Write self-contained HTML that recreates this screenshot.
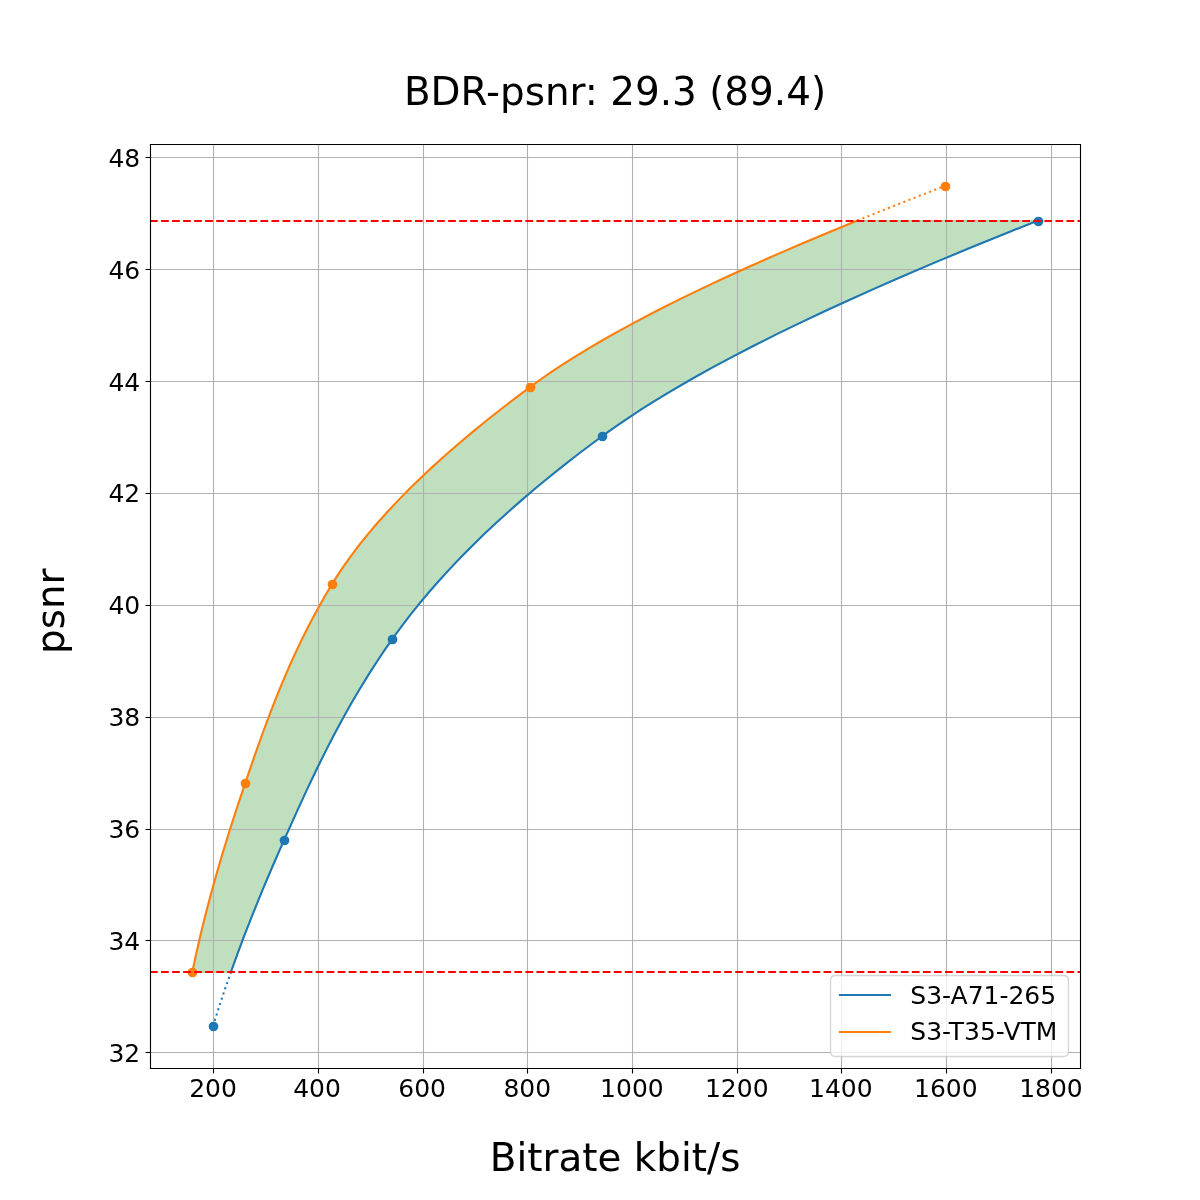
<!DOCTYPE html>
<html><head><meta charset="utf-8"><title>BDR-psnr</title><style>html,body{margin:0;padding:0;background:#fff;width:1200px;height:1200px;overflow:hidden}svg{display:block}text{filter:grayscale(1)}</style></head><body>
<svg width="1200" height="1200" viewBox="0 0 864 864">
<defs>
<style type="text/css">*{stroke-linejoin: round; stroke-linecap: butt}</style>
</defs>
<g>
<g>
<path d="M 0 864 L 864 864 L 864 0 L 0 0 z" style="fill: #ffffff" />
</g>
<g>
<g>
<path d="M 108 768.96 L 777.6 768.96 L 777.6 103.68 L 108 103.68 z" style="fill: #ffffff" />
</g>
<g>
<g clip-path="url(#pe3cf973f61)">
<path d="M 138.436 700.021 L 166.203 700.021 L 167.17 697.302 L 168.144 694.583 L 169.127 691.863 L 170.119 689.144 L 171.118 686.424 L 172.126 683.705 L 173.141 680.985 L 174.165 678.266 L 175.196 675.546 L 176.236 672.827 L 177.283 670.107 L 178.337 667.388 L 179.399 664.668 L 180.469 661.949 L 181.546 659.229 L 182.63 656.51 L 183.722 653.79 L 184.821 651.071 L 185.927 648.352 L 187.04 645.632 L 188.16 642.913 L 189.286 640.193 L 190.42 637.474 L 191.56 634.754 L 192.707 632.035 L 193.861 629.315 L 195.021 626.596 L 196.188 623.876 L 197.36 621.157 L 198.54 618.437 L 199.725 615.718 L 200.916 612.998 L 202.114 610.279 L 203.318 607.559 L 204.527 604.84 L 205.74 602.12 L 206.955 599.401 L 208.173 596.682 L 209.393 593.962 L 210.617 591.243 L 211.845 588.523 L 213.077 585.804 L 214.314 583.084 L 215.556 580.365 L 216.803 577.645 L 218.057 574.926 L 219.317 572.206 L 220.584 569.487 L 221.858 566.767 L 223.14 564.048 L 224.43 561.328 L 225.729 558.609 L 227.037 555.889 L 228.355 553.17 L 229.683 550.451 L 231.021 547.731 L 232.37 545.012 L 233.731 542.292 L 235.103 539.573 L 236.488 536.853 L 237.885 534.134 L 239.295 531.414 L 240.719 528.695 L 242.157 525.975 L 243.61 523.256 L 245.077 520.536 L 246.559 517.817 L 248.058 515.097 L 249.573 512.378 L 251.104 509.658 L 252.652 506.939 L 254.218 504.219 L 255.802 501.5 L 257.405 498.781 L 259.026 496.061 L 260.667 493.342 L 262.327 490.622 L 264.008 487.903 L 265.709 485.183 L 267.432 482.464 L 269.176 479.744 L 270.942 477.025 L 272.73 474.305 L 274.542 471.586 L 276.376 468.866 L 278.235 466.147 L 280.117 463.427 L 282.025 460.708 L 283.959 457.988 L 285.927 455.269 L 287.927 452.55 L 289.96 449.83 L 292.026 447.111 L 294.125 444.391 L 296.257 441.672 L 298.422 438.952 L 300.619 436.233 L 302.85 433.513 L 305.113 430.794 L 307.41 428.074 L 309.739 425.355 L 312.102 422.635 L 314.497 419.916 L 316.926 417.196 L 319.387 414.477 L 321.882 411.757 L 324.41 409.038 L 326.97 406.318 L 329.564 403.599 L 332.191 400.88 L 334.851 398.16 L 337.545 395.441 L 340.271 392.721 L 343.031 390.002 L 345.823 387.282 L 348.649 384.563 L 351.509 381.843 L 354.401 379.124 L 357.327 376.404 L 360.286 373.685 L 363.278 370.965 L 366.304 368.246 L 369.363 365.526 L 372.455 362.807 L 375.581 360.087 L 378.74 357.368 L 381.932 354.649 L 385.158 351.929 L 388.417 349.21 L 391.71 346.49 L 395.036 343.771 L 398.395 341.051 L 401.788 338.332 L 405.215 335.612 L 408.675 332.893 L 412.168 330.173 L 415.695 327.454 L 419.256 324.734 L 422.85 322.015 L 426.478 319.295 L 430.139 316.576 L 433.834 313.856 L 437.588 311.137 L 441.417 308.417 L 445.322 305.698 L 449.301 302.979 L 453.354 300.259 L 457.479 297.54 L 461.677 294.82 L 465.946 292.101 L 470.286 289.381 L 474.696 286.662 L 479.175 283.942 L 483.723 281.223 L 488.338 278.503 L 493.021 275.784 L 497.769 273.064 L 502.583 270.345 L 507.462 267.625 L 512.405 264.906 L 517.411 262.186 L 522.48 259.467 L 527.61 256.748 L 532.801 254.028 L 538.053 251.309 L 543.364 248.589 L 548.734 245.87 L 554.162 243.15 L 559.648 240.431 L 565.189 237.711 L 570.787 234.992 L 576.44 232.272 L 582.147 229.553 L 587.908 226.833 L 593.721 224.114 L 599.587 221.394 L 605.504 218.675 L 611.471 215.955 L 617.489 213.236 L 623.556 210.516 L 629.67 207.797 L 635.833 205.078 L 642.043 202.358 L 648.298 199.639 L 654.599 196.919 L 660.945 194.2 L 667.334 191.48 L 673.767 188.761 L 680.242 186.041 L 686.759 183.322 L 693.317 180.602 L 699.915 177.883 L 706.552 175.163 L 713.229 172.444 L 719.943 169.724 L 726.694 167.005 L 733.482 164.285 L 740.305 161.566 L 747.164 158.847 L 617.226 158.847 L 617.226 158.847 L 610.562 161.566 L 603.944 164.285 L 597.375 167.005 L 590.854 169.724 L 584.383 172.444 L 577.964 175.163 L 571.596 177.883 L 565.281 180.602 L 559.02 183.322 L 552.814 186.041 L 546.664 188.761 L 540.571 191.48 L 534.537 194.2 L 528.561 196.919 L 522.646 199.639 L 516.792 202.358 L 511 205.078 L 505.271 207.797 L 499.607 210.516 L 494.008 213.236 L 488.476 215.955 L 483.01 218.675 L 477.614 221.394 L 472.286 224.114 L 467.03 226.833 L 461.844 229.553 L 456.731 232.272 L 451.692 234.992 L 446.728 237.711 L 441.839 240.431 L 437.026 243.15 L 432.292 245.87 L 427.636 248.589 L 423.059 251.309 L 418.564 254.028 L 414.15 256.748 L 409.82 259.467 L 405.573 262.186 L 401.411 264.906 L 397.335 267.625 L 393.345 270.345 L 389.444 273.064 L 385.632 275.784 L 381.91 278.503 L 378.252 281.223 L 374.624 283.942 L 371.028 286.662 L 367.464 289.381 L 363.931 292.101 L 360.431 294.82 L 356.963 297.54 L 353.527 300.259 L 350.125 302.979 L 346.756 305.698 L 343.421 308.417 L 340.12 311.137 L 336.853 313.856 L 333.621 316.576 L 330.423 319.295 L 327.261 322.015 L 324.135 324.734 L 321.044 327.454 L 317.989 330.173 L 314.971 332.893 L 311.989 335.612 L 309.045 338.332 L 306.138 341.051 L 303.269 343.771 L 300.437 346.49 L 297.644 349.21 L 294.89 351.929 L 292.174 354.649 L 289.497 357.368 L 286.861 360.087 L 284.263 362.807 L 281.706 365.526 L 279.19 368.246 L 276.714 370.965 L 274.279 373.685 L 271.886 376.404 L 269.534 379.124 L 267.224 381.843 L 264.957 384.563 L 262.732 387.282 L 260.55 390.002 L 258.411 392.721 L 256.315 395.441 L 254.264 398.16 L 252.256 400.88 L 250.293 403.599 L 248.375 406.318 L 246.501 409.038 L 244.673 411.757 L 242.891 414.477 L 241.154 417.196 L 239.464 419.916 L 237.814 422.635 L 236.191 425.355 L 234.592 428.074 L 233.017 430.794 L 231.467 433.513 L 229.94 436.233 L 228.436 438.952 L 226.955 441.672 L 225.496 444.391 L 224.059 447.111 L 222.643 449.83 L 221.248 452.55 L 219.873 455.269 L 218.519 457.988 L 217.184 460.708 L 215.868 463.427 L 214.57 466.147 L 213.291 468.866 L 212.03 471.586 L 210.786 474.305 L 209.558 477.025 L 208.347 479.744 L 207.152 482.464 L 205.972 485.183 L 204.808 487.903 L 203.658 490.622 L 202.522 493.342 L 201.4 496.061 L 200.291 498.781 L 199.194 501.5 L 198.111 504.219 L 197.039 506.939 L 195.978 509.658 L 194.928 512.378 L 193.889 515.097 L 192.86 517.817 L 191.841 520.536 L 190.831 523.256 L 189.829 525.975 L 188.836 528.695 L 187.851 531.414 L 186.873 534.134 L 185.902 536.853 L 184.937 539.573 L 183.978 542.292 L 183.026 545.012 L 182.078 547.731 L 181.135 550.451 L 180.196 553.17 L 179.261 555.889 L 178.329 558.609 L 177.4 561.328 L 176.473 564.048 L 175.551 566.767 L 174.633 569.487 L 173.72 572.206 L 172.812 574.926 L 171.91 577.645 L 171.013 580.365 L 170.122 583.084 L 169.236 585.804 L 168.356 588.523 L 167.482 591.243 L 166.613 593.962 L 165.751 596.682 L 164.894 599.401 L 164.044 602.12 L 163.201 604.84 L 162.363 607.559 L 161.532 610.279 L 160.708 612.998 L 159.89 615.718 L 159.08 618.437 L 158.276 621.157 L 157.479 623.876 L 156.689 626.596 L 155.907 629.315 L 155.132 632.035 L 154.364 634.754 L 153.604 637.474 L 152.851 640.193 L 152.107 642.913 L 151.37 645.632 L 150.641 648.352 L 149.92 651.071 L 149.207 653.79 L 148.503 656.51 L 147.806 659.229 L 147.119 661.949 L 146.44 664.668 L 145.769 667.388 L 145.107 670.107 L 144.455 672.827 L 143.811 675.546 L 143.176 678.266 L 142.55 680.985 L 141.934 683.705 L 141.327 686.424 L 140.729 689.144 L 140.142 691.863 L 139.563 694.583 L 138.995 697.302 L 138.436 700.021 z" style="fill: #008000; fill-opacity: 0.25; stroke: #008000; stroke-opacity: 0.25" /></g>
</g>
<g>
<g>
<g>
<path d="M 153.72 769.32 L 153.72 104.04" clip-path="url(#pe3cf973f61)" style="fill: none; stroke: #b0b0b0; stroke-width: 0.8; stroke-linecap: square" />
</g>
<g>
<g>
<path d="M 153.72 769.32 L 153.72 772.92" style="stroke: #000000; stroke-width: 0.8" /></g>
</g>
<g>
<text style="font-size: 18px; font-family: 'DejaVu Sans', 'Liberation Sans', sans-serif; text-anchor: middle" x="153.405" y="789.637" transform="rotate(-0 153.405 789.637)">200</text>
</g>
</g>
<g>
<g>
<path d="M 229.32 769.32 L 229.32 104.04" clip-path="url(#pe3cf973f61)" style="fill: none; stroke: #b0b0b0; stroke-width: 0.8; stroke-linecap: square" />
</g>
<g>
<g>
<path d="M 229.32 769.32 L 229.32 772.92" style="stroke: #000000; stroke-width: 0.8" /></g>
</g>
<g>
<g transform="translate(-0.54 0)"><text style="font-size: 18px; font-family: 'DejaVu Sans', 'Liberation Sans', sans-serif; text-anchor: middle" x="228.817" y="789.637" transform="rotate(-0 228.817 789.637)">400</text></g>
</g>
</g>
<g>
<g>
<path d="M 304.92 769.32 L 304.92 104.04" clip-path="url(#pe3cf973f61)" style="fill: none; stroke: #b0b0b0; stroke-width: 0.8; stroke-linecap: square" />
</g>
<g>
<g>
<path d="M 304.92 769.32 L 304.92 772.92" style="stroke: #000000; stroke-width: 0.8" /></g>
</g>
<g>
<g transform="translate(-0.27 0)"><text style="font-size: 18px; font-family: 'DejaVu Sans', 'Liberation Sans', sans-serif; text-anchor: middle" x="304.230" y="789.637" transform="rotate(-0 304.230 789.637)">600</text></g>
</g>
</g>
<g>
<g>
<path d="M 379.8 769.32 L 379.8 104.04" clip-path="url(#pe3cf973f61)" style="fill: none; stroke: #b0b0b0; stroke-width: 0.8; stroke-linecap: square" />
</g>
<g>
<g>
<path d="M 379.8 769.32 L 379.8 772.92" style="stroke: #000000; stroke-width: 0.8" /></g>
</g>
<g>
<text style="font-size: 18px; font-family: 'DejaVu Sans', 'Liberation Sans', sans-serif; text-anchor: middle" x="379.642" y="789.637" transform="rotate(-0 379.642 789.637)">800</text>
</g>
</g>
<g>
<g>
<path d="M 455.4 769.32 L 455.4 104.04" clip-path="url(#pe3cf973f61)" style="fill: none; stroke: #b0b0b0; stroke-width: 0.8; stroke-linecap: square" />
</g>
<g>
<g>
<path d="M 455.4 769.32 L 455.4 772.92" style="stroke: #000000; stroke-width: 0.8" /></g>
</g>
<g>
<g transform="translate(-0.09 0)"><text style="font-size: 18px; font-family: 'DejaVu Sans', 'Liberation Sans', sans-serif; text-anchor: middle" x="455.054" y="789.637" transform="rotate(-0 455.054 789.637)">1000</text></g>
</g>
</g>
<g>
<g>
<path d="M 531 769.32 L 531 104.04" clip-path="url(#pe3cf973f61)" style="fill: none; stroke: #b0b0b0; stroke-width: 0.8; stroke-linecap: square" />
</g>
<g>
<g>
<path d="M 531 769.32 L 531 772.92" style="stroke: #000000; stroke-width: 0.8" /></g>
</g>
<g>
<text style="font-size: 18px; font-family: 'DejaVu Sans', 'Liberation Sans', sans-serif; text-anchor: middle" x="530.466" y="789.637" transform="rotate(-0 530.466 789.637)">1200</text>
</g>
</g>
<g>
<g>
<path d="M 605.88 769.32 L 605.88 104.04" clip-path="url(#pe3cf973f61)" style="fill: none; stroke: #b0b0b0; stroke-width: 0.8; stroke-linecap: square" />
</g>
<g>
<g>
<path d="M 605.88 769.32 L 605.88 772.92" style="stroke: #000000; stroke-width: 0.8" /></g>
</g>
<g>
<g transform="translate(-0.45 0)"><text style="font-size: 18px; font-family: 'DejaVu Sans', 'Liberation Sans', sans-serif; text-anchor: middle" x="605.878" y="789.637" transform="rotate(-0 605.878 789.637)">1400</text></g>
</g>
</g>
<g>
<g>
<path d="M 681.48 769.32 L 681.48 104.04" clip-path="url(#pe3cf973f61)" style="fill: none; stroke: #b0b0b0; stroke-width: 0.8; stroke-linecap: square" />
</g>
<g>
<g>
<path d="M 681.48 769.32 L 681.48 772.92" style="stroke: #000000; stroke-width: 0.8" /></g>
</g>
<g>
<g transform="translate(-0.27 0)"><text style="font-size: 18px; font-family: 'DejaVu Sans', 'Liberation Sans', sans-serif; text-anchor: middle" x="681.291" y="789.637" transform="rotate(-0 681.291 789.637)">1600</text></g>
</g>
</g>
<g>
<g>
<path d="M 757.08 769.32 L 757.08 104.04" clip-path="url(#pe3cf973f61)" style="fill: none; stroke: #b0b0b0; stroke-width: 0.8; stroke-linecap: square" />
</g>
<g>
<g>
<path d="M 757.08 769.32 L 757.08 772.92" style="stroke: #000000; stroke-width: 0.8" /></g>
</g>
<g>
<text style="font-size: 18px; font-family: 'DejaVu Sans', 'Liberation Sans', sans-serif; text-anchor: middle" x="756.703" y="789.637" transform="rotate(-0 756.703 789.637)">1800</text>
</g>
</g>
<g>
<g transform="translate(0 0.72)"><g transform="translate(0.09 0)"><text style="font-size: 28px; font-family: 'DejaVu Sans', 'Liberation Sans', sans-serif; text-anchor: middle" x="442.8" y="842.656" transform="rotate(-0 442.8 842.656)">Bitrate kbit/s</text></g></g>
</g>
</g>
<g>
<g>
<g>
<path d="M 108.36 757.8 L 777.96 757.8" clip-path="url(#pe3cf973f61)" style="fill: none; stroke: #b0b0b0; stroke-width: 0.8; stroke-linecap: square" />
</g>
<g>
<g>
<path d="M 108.36 757.8 L 104.76 757.8" style="stroke: #000000; stroke-width: 0.8" /></g>
</g>
<g>
<text style="font-size: 18px; font-family: 'DejaVu Sans', 'Liberation Sans', sans-serif; text-anchor: end" x="101" y="764.444" transform="rotate(-0 101 764.444)">32</text>
</g>
</g>
<g>
<g>
<path d="M 108.36 677.16 L 777.96 677.16" clip-path="url(#pe3cf973f61)" style="fill: none; stroke: #b0b0b0; stroke-width: 0.8; stroke-linecap: square" />
</g>
<g>
<g>
<path d="M 108.36 677.16 L 104.76 677.16" style="stroke: #000000; stroke-width: 0.8" /></g>
</g>
<g>
<text style="font-size: 18px; font-family: 'DejaVu Sans', 'Liberation Sans', sans-serif; text-anchor: end" x="101" y="683.906" transform="rotate(-0 101 683.906)">34</text>
</g>
</g>
<g>
<g>
<path d="M 108.36 597.24 L 777.96 597.24" clip-path="url(#pe3cf973f61)" style="fill: none; stroke: #b0b0b0; stroke-width: 0.8; stroke-linecap: square" />
</g>
<g>
<g>
<path d="M 108.36 597.24 L 104.76 597.24" style="stroke: #000000; stroke-width: 0.8" /></g>
</g>
<g>
<text style="font-size: 18px; font-family: 'DejaVu Sans', 'Liberation Sans', sans-serif; text-anchor: end" x="101" y="603.368" transform="rotate(-0 101 603.368)">36</text>
</g>
</g>
<g>
<g>
<path d="M 108.36 516.6 L 777.96 516.6" clip-path="url(#pe3cf973f61)" style="fill: none; stroke: #b0b0b0; stroke-width: 0.8; stroke-linecap: square" />
</g>
<g>
<g>
<path d="M 108.36 516.6 L 104.76 516.6" style="stroke: #000000; stroke-width: 0.8" /></g>
</g>
<g>
<text style="font-size: 18px; font-family: 'DejaVu Sans', 'Liberation Sans', sans-serif; text-anchor: end" x="101" y="522.830" transform="rotate(-0 101 522.830)">38</text>
</g>
</g>
<g>
<g>
<path d="M 108.36 435.96 L 777.96 435.96" clip-path="url(#pe3cf973f61)" style="fill: none; stroke: #b0b0b0; stroke-width: 0.8; stroke-linecap: square" />
</g>
<g>
<g>
<path d="M 108.36 435.96 L 104.76 435.96" style="stroke: #000000; stroke-width: 0.8" /></g>
</g>
<g>
<text style="font-size: 18px; font-family: 'DejaVu Sans', 'Liberation Sans', sans-serif; text-anchor: end" x="101" y="442.292" transform="rotate(-0 101 442.292)">40</text>
</g>
</g>
<g>
<g>
<path d="M 108.36 355.32 L 777.96 355.32" clip-path="url(#pe3cf973f61)" style="fill: none; stroke: #b0b0b0; stroke-width: 0.8; stroke-linecap: square" />
</g>
<g>
<g>
<path d="M 108.36 355.32 L 104.76 355.32" style="stroke: #000000; stroke-width: 0.8" /></g>
</g>
<g>
<text style="font-size: 18px; font-family: 'DejaVu Sans', 'Liberation Sans', sans-serif; text-anchor: end" x="101" y="361.754" transform="rotate(-0 101 361.754)">42</text>
</g>
</g>
<g>
<g>
<path d="M 108.36 274.68 L 777.96 274.68" clip-path="url(#pe3cf973f61)" style="fill: none; stroke: #b0b0b0; stroke-width: 0.8; stroke-linecap: square" />
</g>
<g>
<g>
<path d="M 108.36 274.68 L 104.76 274.68" style="stroke: #000000; stroke-width: 0.8" /></g>
</g>
<g>
<text style="font-size: 18px; font-family: 'DejaVu Sans', 'Liberation Sans', sans-serif; text-anchor: end" x="101" y="281.216" transform="rotate(-0 101 281.216)">44</text>
</g>
</g>
<g>
<g>
<path d="M 108.36 194.04 L 777.96 194.04" clip-path="url(#pe3cf973f61)" style="fill: none; stroke: #b0b0b0; stroke-width: 0.8; stroke-linecap: square" />
</g>
<g>
<g>
<path d="M 108.36 194.04 L 104.76 194.04" style="stroke: #000000; stroke-width: 0.8" /></g>
</g>
<g>
<text style="font-size: 18px; font-family: 'DejaVu Sans', 'Liberation Sans', sans-serif; text-anchor: end" x="101" y="200.678" transform="rotate(-0 101 200.678)">46</text>
</g>
</g>
<g>
<g>
<path d="M 108.36 113.4 L 777.96 113.4" clip-path="url(#pe3cf973f61)" style="fill: none; stroke: #b0b0b0; stroke-width: 0.8; stroke-linecap: square" />
</g>
<g>
<g>
<path d="M 108.36 113.4 L 104.76 113.4" style="stroke: #000000; stroke-width: 0.8" /></g>
</g>
<g>
<text style="font-size: 18px; font-family: 'DejaVu Sans', 'Liberation Sans', sans-serif; text-anchor: end" x="101" y="120.140" transform="rotate(-0 101 120.140)">48</text>
</g>
</g>
<g>
<g transform="translate(1.5 3.76)"><text style="font-size: 28px; font-family: 'DejaVu Sans', 'Liberation Sans', sans-serif; text-anchor: middle" x="44.271" y="436.32" transform="rotate(-90 44.271 436.32)">psnr</text></g>
</g>
</g>
<g>
<g clip-path="url(#pe3cf973f61)">
<path d="M 153.72 742.08 C 154.516 742.08 155.279 741.764 155.841 741.201 C 156.404 740.639 156.72 739.876 156.72 739.08 C 156.72 738.284 156.404 737.521 155.841 736.959 C 155.279 736.396 154.516 736.08 153.72 736.08 C 152.924 736.08 152.161 736.396 151.599 736.959 C 151.036 737.521 150.72 738.284 150.72 739.08 C 150.72 739.876 151.036 740.639 151.599 741.201 C 152.161 741.764 152.924 742.08 153.72 742.08 z" style="fill: #1f77b4; stroke: #1f77b4" /><path d="M 204.84 608.16 C 205.636 608.16 206.399 607.844 206.961 607.281 C 207.524 606.719 207.84 605.956 207.84 605.16 C 207.84 604.364 207.524 603.601 206.961 603.039 C 206.399 602.476 205.636 602.16 204.84 602.16 C 204.044 602.16 203.281 602.476 202.719 603.039 C 202.156 603.601 201.84 604.364 201.84 605.16 C 201.84 605.956 202.156 606.719 202.719 607.281 C 203.281 607.844 204.044 608.16 204.84 608.16 z" style="fill: #1f77b4; stroke: #1f77b4" /><path d="M 282.6 463.44 C 283.396 463.44 284.159 463.124 284.721 462.561 C 285.284 461.999 285.6 461.236 285.6 460.44 C 285.6 459.644 285.284 458.881 284.721 458.319 C 284.159 457.756 283.396 457.44 282.6 457.44 C 281.804 457.44 281.041 457.756 280.479 458.319 C 279.916 458.881 279.6 459.644 279.6 460.44 C 279.6 461.236 279.916 461.999 280.479 462.561 C 281.041 463.124 281.804 463.44 282.6 463.44 z" style="fill: #1f77b4; stroke: #1f77b4" /><path d="M 433.8 317.28 C 434.596 317.28 435.359 316.964 435.921 316.401 C 436.484 315.839 436.8 315.076 436.8 314.28 C 436.8 313.484 436.484 312.721 435.921 312.159 C 435.359 311.596 434.596 311.28 433.8 311.28 C 433.004 311.28 432.241 311.596 431.679 312.159 C 431.116 312.721 430.8 313.484 430.8 314.28 C 430.8 315.076 431.116 315.839 431.679 316.401 C 432.241 316.964 433.004 317.28 433.8 317.28 z" style="fill: #1f77b4; stroke: #1f77b4" /><path d="M 747.72 162.48 C 748.516 162.48 749.279 162.164 749.841 161.601 C 750.404 161.039 750.72 160.276 750.72 159.48 C 750.72 158.684 750.404 157.921 749.841 157.359 C 749.279 156.796 748.516 156.48 747.72 156.48 C 746.924 156.48 746.161 156.796 745.599 157.359 C 745.036 157.921 744.72 158.684 744.72 159.48 C 744.72 160.276 745.036 161.039 745.599 161.601 C 746.161 162.164 746.924 162.48 747.72 162.48 z" style="fill: #1f77b4; stroke: #1f77b4" /></g>
</g>
<g>
<path d="M 166.203 700.021  L 171.118 686.424  L 176.235 672.826  L 182.630 656.509  L 189.286 640.193  L 196.187 623.876  L 203.317 607.559  L 214.313 583.084  L 221.857 566.767  L 228.355 553.169  L 235.103 539.572  L 240.719 528.694  L 246.559 517.816  L 252.652 506.938  L 259.026 496.061  L 265.709 485.183  L 272.730 474.305  L 278.234 466.146  L 283.959 457.988  L 289.960 449.830  L 296.257 441.671  L 302.849 433.513  L 309.739 425.354  L 316.925 417.196  L 324.409 409.037  L 332.191 400.879  L 340.270 392.721  L 348.649 384.562  L 357.326 376.404  L 366.303 368.245  L 375.580 360.087  L 385.157 351.929  L 395.035 343.770  L 405.214 335.612  L 415.695 327.453  L 426.477 319.295  L 437.587 311.136  L 445.321 305.698  L 453.353 300.259  L 461.677 294.820  L 470.286 289.381  L 483.723 281.222  L 497.769 273.064  L 512.404 264.905  L 527.609 256.747  L 543.364 248.589  L 559.647 240.430  L 576.439 232.272  L 593.721 224.113  L 611.471 215.955  L 629.670 207.797  L 648.298 199.638  L 673.767 188.760  L 699.914 177.882  L 726.693 167.004  L 747.163 158.846  L 747.163 158.846  " clip-path="url(#pe3cf973f61)" style="fill: none; stroke: #1f77b4; stroke-width: 1.5; stroke-linecap: square" />
</g>
<g>
<path d="M 153.405 738.72  L 153.816 737.385  L 154.228 736.051  L 154.643 734.716  L 155.060 733.382  L 155.480 732.047  L 155.901 730.713  L 156.325 729.378  L 156.752 728.044  L 157.180 726.710  L 157.611 725.375  L 158.044 724.041  L 158.479 722.706  L 158.916 721.372  L 159.355 720.037  L 159.797 718.703  L 160.241 717.369  L 160.687 716.034  L 161.135 714.700  L 161.585 713.365  L 162.037 712.031  L 162.492 710.696  L 162.948 709.362  L 163.407 708.028  L 163.868 706.693  L 164.331 705.359  L 164.795 704.024  L 165.262 702.690  L 165.732 701.355  L 166.203 700.021  " clip-path="url(#pe3cf973f61)" style="fill: none; stroke-dasharray: 1.5,2.475; stroke-dashoffset: 0; stroke: #1f77b4; stroke-width: 1.5" />
</g>
<g>
<g clip-path="url(#pe3cf973f61)">
<path d="M 138.6 703.2 C 139.396 703.2 140.159 702.884 140.721 702.321 C 141.284 701.759 141.6 700.996 141.6 700.2 C 141.6 699.404 141.284 698.641 140.721 698.079 C 140.159 697.516 139.396 697.2 138.6 697.2 C 137.804 697.2 137.041 697.516 136.479 698.079 C 135.916 698.641 135.6 699.404 135.6 700.2 C 135.6 700.996 135.916 701.759 136.479 702.321 C 137.041 702.884 137.804 703.2 138.6 703.2 z" style="fill: #ff7f0e; stroke: #ff7f0e" /><path d="M 176.76 567.12 C 177.556 567.12 178.319 566.804 178.881 566.241 C 179.444 565.679 179.76 564.916 179.76 564.12 C 179.76 563.324 179.444 562.561 178.881 561.999 C 178.319 561.436 177.556 561.12 176.76 561.12 C 175.964 561.12 175.201 561.436 174.639 561.999 C 174.076 562.561 173.76 563.324 173.76 564.12 C 173.76 564.916 174.076 565.679 174.639 566.241 C 175.201 566.804 175.964 567.12 176.76 567.12 z" style="fill: #ff7f0e; stroke: #ff7f0e" /><path d="M 239.4 423.84 C 240.196 423.84 240.959 423.524 241.521 422.961 C 242.084 422.399 242.4 421.636 242.4 420.84 C 242.4 420.044 242.084 419.281 241.521 418.719 C 240.959 418.156 240.196 417.84 239.4 417.84 C 238.604 417.84 237.841 418.156 237.279 418.719 C 236.716 419.281 236.4 420.044 236.4 420.84 C 236.4 421.636 236.716 422.399 237.279 422.961 C 237.841 423.524 238.604 423.84 239.4 423.84 z" style="fill: #ff7f0e; stroke: #ff7f0e" /><path d="M 381.96 282 C 382.756 282 383.519 281.684 384.081 281.121 C 384.644 280.559 384.96 279.796 384.96 279 C 384.96 278.204 384.644 277.441 384.081 276.879 C 383.519 276.316 382.756 276 381.96 276 C 381.164 276 380.401 276.316 379.839 276.879 C 379.276 277.441 378.96 278.204 378.96 279 C 378.96 279.796 379.276 280.559 379.839 281.121 C 380.401 281.684 381.164 282 381.96 282 z" style="fill: #ff7f0e; stroke: #ff7f0e" /><path d="M 680.76 137.28 C 681.556 137.28 682.319 136.964 682.881 136.401 C 683.444 135.839 683.76 135.076 683.76 134.28 C 683.76 133.484 683.444 132.721 682.881 132.159 C 682.319 131.596 681.556 131.28 680.76 131.28 C 679.964 131.28 679.201 131.596 678.639 132.159 C 678.076 132.721 677.76 133.484 677.76 134.28 C 677.76 135.076 678.076 135.839 678.639 136.401 C 679.201 136.964 679.964 137.28 680.76 137.28 z" style="fill: #ff7f0e; stroke: #ff7f0e" /></g>
</g>
<g>
<path d="M 138.436 700.021  L 141.326 686.424  L 144.454 672.826  L 147.806 659.229  L 151.369 645.632  L 155.131 632.034  L 159.890 615.717  L 164.894 599.401  L 170.121 583.084  L 176.473 564.047  L 183.978 542.292  L 189.829 525.975  L 194.928 512.377  L 200.290 498.780  L 204.807 487.902  L 209.558 477.024  L 214.570 466.146  L 219.873 455.268  L 225.495 444.391  L 229.939 436.232  L 234.591 428.074  L 239.464 419.915  L 242.890 414.476  L 246.501 409.037  L 252.256 400.879  L 258.410 392.721  L 264.956 384.562  L 271.885 376.404  L 279.189 368.245  L 286.860 360.087  L 294.889 351.929  L 303.268 343.770  L 311.989 335.612  L 321.043 327.453  L 330.423 319.295  L 340.119 311.136  L 350.125 302.978  L 360.430 294.820  L 371.028 286.661  L 381.909 278.503  L 389.444 273.064  L 397.334 267.625  L 405.572 262.186  L 414.150 256.747  L 423.059 251.308  L 432.291 245.869  L 441.838 240.430  L 456.731 232.272  L 472.286 224.113  L 488.475 215.955  L 505.271 207.797  L 522.645 199.638  L 540.571 191.480  L 559.019 183.321  L 577.963 175.163  L 597.374 167.004  L 617.225 158.846  L 617.225 158.846  " clip-path="url(#pe3cf973f61)" style="fill: none; stroke: #ff7f0e; stroke-width: 1.5; stroke-linecap: square" />
</g>
<g>
<path d="M 617.225 158.846  L 619.341 157.986  L 621.462 157.127  L 623.587 156.267  L 625.716 155.408  L 627.850 154.548  L 629.988 153.689  L 632.131 152.829  L 634.278 151.970  L 636.429 151.110  L 638.585 150.251  L 640.744 149.391  L 642.908 148.532  L 645.077 147.672  L 647.249 146.813  L 649.425 145.953  L 651.606 145.093  L 653.791 144.234  L 655.979 143.374  L 658.172 142.515  L 660.368 141.655  L 662.569 140.796  L 664.773 139.936  L 666.982 139.077  L 669.194 138.217  L 671.410 137.358  L 673.629 136.498  L 675.852 135.639  L 678.080 134.779  L 680.310 133.92  " clip-path="url(#pe3cf973f61)" style="fill: none; stroke-dasharray: 1.5,2.475; stroke-dashoffset: 0; stroke: #ff7f0e; stroke-width: 1.5" />
</g>
<g>
<path d="M 108 699.84 L 777.6 699.84" clip-path="url(#pe3cf973f61)" style="fill: none; stroke-dasharray: 5.55,2.4; stroke-dashoffset: 0; stroke: #ff0000; stroke-width: 1.5" />
</g>
<g>
<path d="M 108 159.12 L 777.6 159.12" clip-path="url(#pe3cf973f61)" style="fill: none; stroke-dasharray: 5.55,2.4; stroke-dashoffset: 0; stroke: #ff0000; stroke-width: 1.5" />
</g>
<g>
<path d="M 108.36 769.32 L 108.36 104.04" style="fill: none; stroke: #000000; stroke-width: 0.8; stroke-linejoin: miter; stroke-linecap: square" />
</g>
<g>
<path d="M 777.96 769.32 L 777.96 104.04" style="fill: none; stroke: #000000; stroke-width: 0.8; stroke-linejoin: miter; stroke-linecap: square" />
</g>
<g>
<path d="M 108.36 769.32 L 777.96 769.32" style="fill: none; stroke: #000000; stroke-width: 0.8; stroke-linejoin: miter; stroke-linecap: square" />
</g>
<g>
<path d="M 108.36 104.04 L 777.96 104.04" style="fill: none; stroke: #000000; stroke-width: 0.8; stroke-linejoin: miter; stroke-linecap: square" />
</g>
<g>
<text style="font-size: 28px; font-family: 'DejaVu Sans', 'Liberation Sans', sans-serif; text-anchor: middle" x="442.8" y="75.68" transform="rotate(-0 442.8 75.68)">BDR-psnr: 29.3 (89.4)</text>
</g>
<g>
<g>
<path d="M 601.56 760.68 L 765.72 760.68 Q 769.32 760.68 769.32 757.08 L 769.32 705.96 Q 769.32 702.36 765.72 702.36 L 601.56 702.36 Q 597.96 702.36 597.96 705.96 L 597.96 757.08 Q 597.96 760.68 601.56 760.68 z" style="fill: #ffffff; opacity: 0.8; stroke: #cccccc; stroke-linejoin: miter" />
</g>
<g>
<path d="M 604.8 716.4 L 622.8 716.4 L 640.8 716.4" style="fill: none; stroke: #1f77b4; stroke-width: 1.5; stroke-linecap: square" />
</g>
<g>
<g transform="translate(-0.09 0)"><text style="font-size: 18px; font-family: 'DejaVu Sans', 'Liberation Sans', sans-serif; text-anchor: start" x="655.495" y="722.595" transform="rotate(-0 655.495 722.595)">S3-A71-265</text></g>
</g>
<g>
<path d="M 604.8 743.04 L 622.8 743.04 L 640.8 743.04" style="fill: none; stroke: #ff7f0e; stroke-width: 1.5; stroke-linecap: square" />
</g>
<g>
<g transform="translate(-0.09 0)"><text style="font-size: 18px; font-family: 'DejaVu Sans', 'Liberation Sans', sans-serif; text-anchor: start" x="655.495" y="749.016" transform="rotate(-0 655.495 749.016)">S3-T35-VTM</text></g>
</g>
</g>
</g>
</g>
<defs>
<clipPath id="pe3cf973f61">
<rect x="108" y="103.68" width="669.6" height="665.28" />
</clipPath>
</defs>
</svg>
</body></html>
